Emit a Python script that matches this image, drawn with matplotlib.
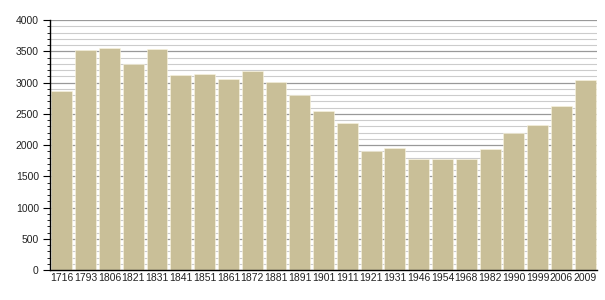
import matplotlib.pyplot as plt
from matplotlib.ticker import MultipleLocator

years = ['1716', '1793', '1806', '1821', '1831', '1841', '1851', '1861', '1872',
         '1881', '1891', '1901', '1911', '1921', '1931', '1946', '1954', '1968',
         '1982', '1990', '1999', '2006', '2009']
population = [2870, 3520, 3560, 3290, 3530, 3120, 3140, 3060, 3180,
              3010, 2800, 2540, 2350, 1900, 1950, 1780, 1780, 1780,
              1940, 2190, 2320, 2620, 3040]

plt.rcParams['font.family'] = ['Liberation Sans', 'DejaVu Sans']

fig = plt.figure(figsize=(6.05, 3.0), dpi=100)
ax = fig.add_axes([0.0826, 0.1, 0.9044, 0.8333])

x = range(len(years))
ax.bar(x, population, width=0.88, color='#c9bf98', edgecolor='#fbf6e2',
       linewidth=0.4, zorder=2)

ax.set_xlim(-0.5, len(years) - 0.5)
ax.set_ylim(0, 4000)
ax.yaxis.set_major_locator(MultipleLocator(500))
ax.yaxis.set_minor_locator(MultipleLocator(100))
ax.grid(axis='y', which='major', color='#999999', linewidth=0.9, zorder=0)
ax.grid(axis='y', which='minor', color='#cccccc', linewidth=0.8, zorder=0)
ax.set_axisbelow(True)

ax.set_xticks(list(x))
ax.set_xticklabels(years)
ax.tick_params(axis='x', length=0, pad=2, labelsize=7.5, labelcolor='#222222')
ax.tick_params(axis='y', which='major', length=5, width=0.8, labelsize=7.5,
               pad=3, labelcolor='#222222')
ax.tick_params(axis='y', which='minor', length=2.5, width=0.6)

for s in ['top', 'right']:
    ax.spines[s].set_visible(False)
ax.spines['left'].set_linewidth(1.0)
ax.spines['bottom'].set_linewidth(1.0)

fig.savefig('out.png', dpi=100)
